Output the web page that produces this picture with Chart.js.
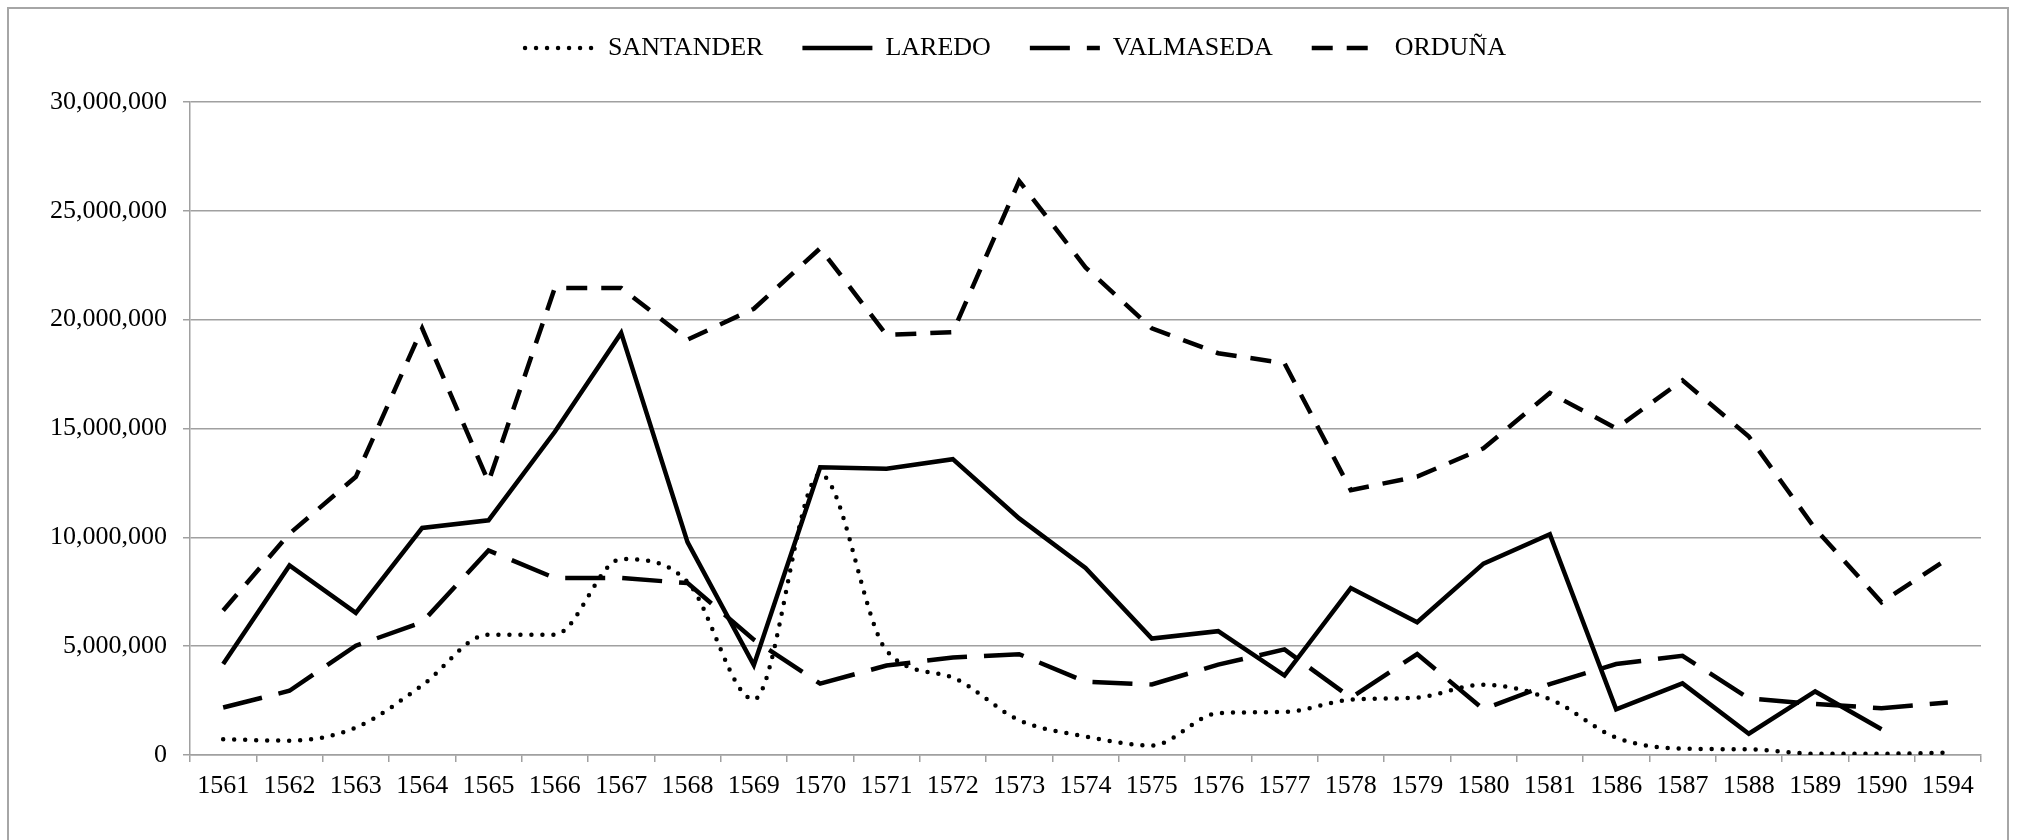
<!DOCTYPE html>
<html>
<head>
<meta charset="utf-8">
<script src="https://cdn.jsdelivr.net/npm/chart.js@4.4.0/dist/chart.umd.min.js"></script>
<style>
  html, body { margin: 0; padding: 0; background: #fff; }
</style>
</head>
<body>
<canvas id="chart" width="2023" height="840"></canvas>
<script>
const years = ['1561', '1562', '1563', '1564', '1565', '1566', '1567', '1568', '1569', '1570',
  '1571', '1572', '1573', '1574', '1575', '1576', '1577', '1578', '1579', '1580',
  '1581', '1586', '1587', '1588', '1589', '1590', '1594'];

const santander = [720000, 660000, 1260000, 3200000, 5530000, 5530000, 9000000, 7950000, 2550000, 12900000,
  4800000, 3550000, 1600000, 850000, 440000, 1920000, 1980000, 2540000, 2640000, 3230000,
  2570000, 800000, 290000, 260000, 60000, 60000, 110000];

const laredo = [4180000, 8710000, 6530000, 10430000, 10780000, 14850000, 19390000, 9780000, 4130000, 13220000,
  13150000, 13590000, 10870000, 8590000, 5350000, 5690000, 3650000, 7670000, 6100000, 8790000,
  10140000, 2100000, 3290000, 980000, 2920000, 1180000, null];

const valmaseda = [2180000, 2950000, 5020000, 6100000, 9400000, 8130000, 8130000, 7900000, 5300000, 3280000,
  4110000, 4480000, 4630000, 3370000, 3240000, 4150000, 4850000, 2630000, 4640000, 2100000,
  3260000, 4180000, 4560000, 2600000, 2340000, 2150000, 2410000];

const orduna = [6640000, 10170000, 12780000, 19600000, 12550000, 21460000, 21460000, 19080000, 20500000, 23280000,
  19300000, 19430000, 26370000, 22400000, 19600000, 18460000, 18000000, 12170000, 12790000, 14090000,
  16630000, 15010000, 17210000, 14630000, 10400000, 7020000, 9020000];

const yTicks = [0, 5000000, 10000000, 15000000, 20000000, 25000000, 30000000];

const FONT = { family: '"Liberation Serif", "Times New Roman", serif', size: 26 };
const GRID = '#a0a0a0';

// outer frame of the chart
const frame = {
  id: 'frame',
  beforeDraw(chart) {
    const ctx = chart.ctx;
    ctx.save();
    ctx.strokeStyle = '#a6a6a6';
    ctx.lineWidth = 2;
    ctx.strokeRect(8, 8, 2000, 900);
    ctx.restore();
  }
};

// keep the legend short even with wide item spacing
const legendFit = {
  id: 'legendFit',
  beforeInit(chart) {
    const fit = chart.legend.fit;
    chart.legend.fit = function() {
      fit.call(this);
      this.height = 106;
    };
  }
};

const ctx = document.getElementById('chart').getContext('2d');
new Chart(ctx, {
  type: 'line',
  data: {
    labels: years,
    datasets: [
      {
        label: 'SANTANDER',
        data: santander,
        borderColor: '#000',
        borderWidth: 4.5,
        borderDash: [0, 11],
        borderCapStyle: 'round',
        cubicInterpolationMode: 'monotone'
      },
      {
        label: 'LAREDO',
        data: laredo,
        borderColor: '#000',
        borderWidth: 4.5
      },
      {
        label: 'VALMASEDA',
        data: valmaseda,
        borderColor: '#000',
        borderWidth: 4.5,
        borderDash: [40, 17]
      },
      {
        label: 'ORDUÑA',
        data: orduna,
        borderColor: '#000',
        borderWidth: 4.5,
        borderDash: [21, 14]
      }
    ]
  },
  options: {
    responsive: false,
    animation: false,
    devicePixelRatio: 1,
    layout: {
      padding: { top: -4, left: 50, right: 42, bottom: 0 }
    },
    elements: {
      point: { radius: 0, hoverRadius: 0 }
    },
    plugins: {
      tooltip: { enabled: false },
      legend: {
        position: 'top',
        labels: {
          font: FONT,
          color: '#000',
          usePointStyle: true,
          pointStyle: 'line',
          pointStyleWidth: 70,
          padding: 39,
          generateLabels(chart) {
            const items = Chart.defaults.plugins.legend.labels.generateLabels(chart);
            items.forEach((item, i) => {
              const ds = chart.data.datasets[i];
              item.lineDash = ds.borderDash || [];
              item.lineCap = ds.borderCapStyle || 'butt';
              item.lineWidth = ds.borderWidth;
              item.strokeStyle = ds.borderColor;
              item.pointStyle = 'line';
            });
            return items;
          }
        }
      }
    },
    scales: {
      x: {
        offset: true,
        afterFit(scale) { scale.height = 85; },
        grid: {
          offset: true,
          drawOnChartArea: false,
          color: GRID,
          lineWidth: 1.5,
          tickLength: 7
        },
        border: { color: GRID, width: 1.5 },
        ticks: {
          font: FONT,
          color: '#000',
          padding: 9,
          autoSkip: false,
          maxRotation: 0
        }
      },
      y: {
        min: 0,
        max: 30000000,
        afterFit(scale) { scale.width = 140; },
        afterBuildTicks(scale) {
          scale.ticks = yTicks.map(v => ({ value: v }));
        },
        grid: {
          color: GRID,
          lineWidth: 1.5,
          tickLength: 7
        },
        border: { color: GRID, width: 1.5 },
        ticks: {
          font: FONT,
          color: '#000',
          padding: 16,
          callback: v => v.toLocaleString('en-US')
        }
      }
    }
  },
  plugins: [frame, legendFit]
});
</script>
</body>
</html>
